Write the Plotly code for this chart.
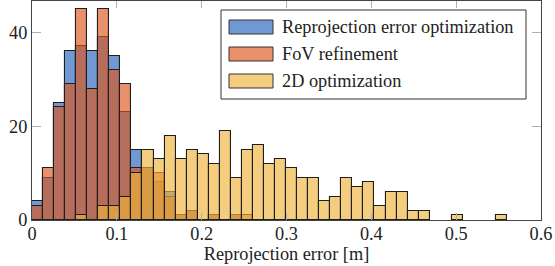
import numpy as np
import plotly.graph_objects as go

# ---- data (histogram counts per bin) ----
N_BINS = 43
BIN_MAX = 0.56  # upper edge of the last bin [m]

series_names = ["Reprojection error optimization", "FoV refinement", "2D optimization"]

reproj_counts = [4, 9, 25, 36, 37, 36, 39, 35, 23, 15,
                 11, 8, 6, 1, 2, 0, 1, 0, 1, 0,
                 0, 0, 0, 0, 0, 0, 0, 0, 0, 0,
                 0, 0, 0, 0, 0, 0, 0, 0, 0, 0,
                 0, 0, 0]
fov_counts = [3, 11, 24, 29, 45, 28, 45, 32, 29, 11,
              11, 10, 5, 1, 2, 0, 1, 0, 1, 1,
              0, 0, 0, 0, 0, 0, 0, 0, 0, 0,
              0, 0, 0, 0, 0, 0, 0, 0, 0, 0,
              0, 0, 0]
opt2d_counts = [0, 0, 0, 0, 1, 0, 3, 3, 5, 10,
                15, 13, 18, 13, 15, 14, 12, 19, 9, 15,
                16, 12, 13, 11, 9, 9, 4, 5, 9, 7,
                8, 3, 6, 6, 2, 2, 0, 0, 1, 0,
                0, 0, 1]

x_ticks = [0, 0.1, 0.2, 0.3, 0.4, 0.5, 0.6]
y_ticks = [0, 20, 40]

# ---- styles ----
colors = ["rgba(35,98,189,0.65)", "rgba(220,86,26,0.65)", "rgba(240,178,57,0.65)"]
edge = "#1e1e1e"
FONT = "Liberation Serif"
TXT = "#222222"

bin_w = BIN_MAX / N_BINS
centers = (np.arange(N_BINS) + 0.5) * bin_w

fig = go.Figure()
for name, counts, col in zip(series_names, [reproj_counts, fov_counts, opt2d_counts], colors):
    c = np.array(counts)
    m = c > 0
    fig.add_trace(go.Bar(
        x=centers[m], y=c[m], width=bin_w, name=name,
        marker=dict(color=col, line=dict(color=edge, width=1.1)),
        showlegend=False,
    ))

# ---- custom legend (long swatches like the original) ----
W, H = 555, 266
L, R, T, B = 32, 14, 1, 46
pw, ph = W - L - R, H - T - B

def px(xp):
    return (xp - L) / pw

def py(yp):
    return (H - B - yp) / ph

shapes = [dict(type="rect", xref="paper", yref="paper",
               x0=px(221), x1=px(526), y0=py(99), y1=py(10),
               line=dict(color="#333333", width=1), fillcolor="white", layer="above")]
annotations = []
for i, (name, col) in enumerate(zip(series_names, colors)):
    yc = 27 + i * 27
    shapes.append(dict(type="rect", xref="paper", yref="paper",
                       x0=px(229), x1=px(273), y0=py(yc + 7), y1=py(yc - 7),
                       line=dict(color="#333333", width=1), fillcolor=col, layer="above"))
    annotations.append(dict(xref="paper", yref="paper", x=px(280), y=py(yc),
                            xanchor="left", yanchor="middle", showarrow=False,
                            text=name, font=dict(family=FONT, size=18.3, color=TXT)))

fig.update_layout(
    width=W, height=H,
    margin=dict(l=L, r=R, t=T, b=B, pad=0, autoexpand=False),
    barmode="overlay", bargap=0,
    plot_bgcolor="white", paper_bgcolor="white",
    font=dict(family=FONT, size=18.3, color=TXT),
    shapes=shapes, annotations=annotations,
    xaxis=dict(range=[0, 0.6], tickvals=x_ticks, ticktext=[str(v) for v in x_ticks],
               ticks="inside", ticklen=7, tickcolor="#b0b0b0", tickwidth=1,
               ticklabelstandoff=-3,
               showline=True, linecolor="#444444", linewidth=1, mirror="ticks",
               showgrid=False, zeroline=False, automargin=False,
               title=dict(text="Reprojection error [m]", standoff=0,
                          font=dict(family=FONT, size=18.3, color=TXT))),
    yaxis=dict(range=[0, 46.7], tickvals=y_ticks,
               ticks="inside", ticklen=9, tickcolor="#b0b0b0", tickwidth=1,
               showline=True, linecolor="#444444", linewidth=1, mirror="ticks",
               showgrid=False, zeroline=False, automargin=False),
)

fig.write_html("out.html",
               config={"displayModeBar": False},
               post_script="document.body.style.margin='0';document.body.style.overflow='hidden';")
